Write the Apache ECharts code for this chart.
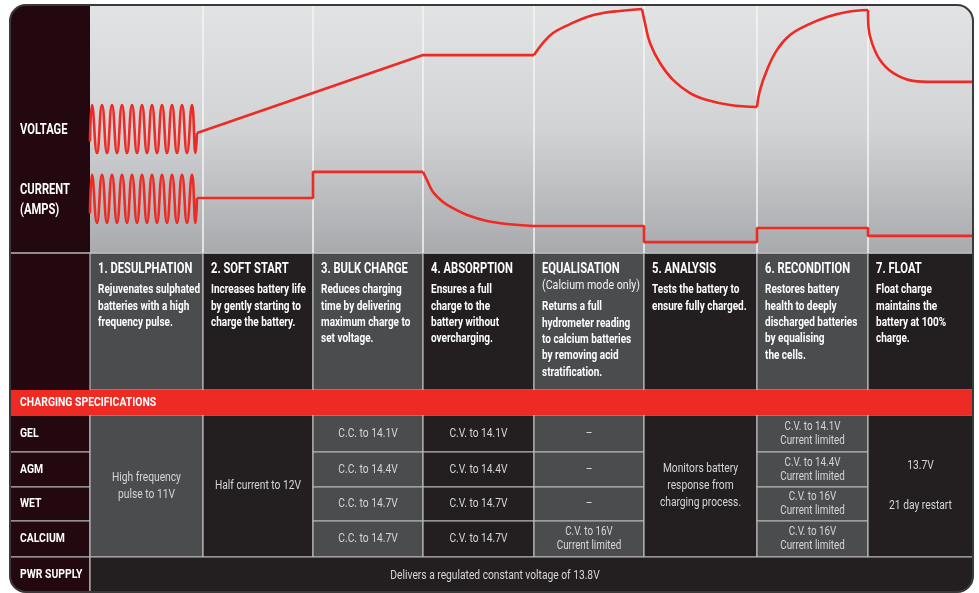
<!DOCTYPE html>
<html>
<head>
<meta charset="utf-8">
<script src="https://cdn.jsdelivr.net/npm/echarts@6/dist/echarts.min.js"></script>
<style>
html,body{margin:0;padding:0;background:#fff;}
#c{width:979px;height:593px;}
</style>
</head>
<body>
<div id="c"></div>
<script>
// ---------- DATA ----------
const stageEdges = [0, 11.3, 22.3, 33.3, 44.4, 55.4, 66.7, 77.8, 88.3];
const stageTitles = ['1. DESULPHATION','2. SOFT START','3. BULK CHARGE','4. ABSORPTION','EQUALISATION','5. ANALYSIS','6. RECONDITION','7. FLOAT'];
const stageSubtitles = ['', '', '', '', '(Calcium mode only)', '', '', ''];
const stageDescriptions = [
  'Rejuvenates sulphated\nbatteries with a high\nfrequency pulse.',
  'Increases battery life\nby gently starting to\ncharge the battery.',
  'Reduces charging\ntime by delivering\nmaximum charge to\nset voltage.',
  'Ensures a full\ncharge to the\nbattery without\novercharging.',
  'Returns a full\nhydrometer reading\nto calcium batteries\nby removing acid\nstratification.',
  'Tests the battery to\nensure fully charged.',
  'Restores battery\nhealth to deeply\ndischarged batteries\nby equalising\nthe cells.',
  'Float charge\nmaintains the\nbattery at 100%\ncharge.'
];
const curveLabels = ['VOLTAGE', 'CURRENT\n(AMPS)'];
const specHeader = 'CHARGING SPECIFICATIONS';
const batteryTypes = ['GEL','AGM','WET','CALCIUM'];
const specDesulphation = 'High frequency\npulse to 11V';
const specSoftStart = 'Half current to 12V';
const specBulk = ['C.C. to 14.1V','C.C. to 14.4V','C.C. to 14.7V','C.C. to 14.7V'];
const specAbsorption = ['C.V. to 14.1V','C.V. to 14.4V','C.V. to 14.7V','C.V. to 14.7V'];
const specEqualisation = ['–','–','–','C.V. to 16V\nCurrent limited'];
const specAnalysis = 'Monitors battery\nresponse from\ncharging process.';
const specRecondition = ['C.V. to 14.1V\nCurrent limited','C.V. to 14.4V\nCurrent limited','C.V. to 16V\nCurrent limited','C.V. to 16V\nCurrent limited'];
const specFloat = '13.7V\n\n21 day restart';
const pwrLabel = 'PWR SUPPLY';
const pwrText = 'Delivers a regulated constant voltage of 13.8V';

// curves: [time, relative level 0-100]
const voltagePulse = [[0,45],[0.2,59.7],[0.7,40.3],[1.2,59.7],[1.7,40.3],[2.2,59.7],[2.7,40.3],[3.2,59.7],[3.7,40.3],[4.2,59.7],[4.7,40.3],[5.2,59.7],[5.7,40.3],[6.2,59.7],[6.7,40.3],[7.2,59.7],[7.7,40.3],[8.2,59.7],[8.7,40.3],[9.2,59.7],[9.7,40.3],[10.2,59.7],[10.55,40.3],[10.7,48.4]];
const voltageRamp = [[10.7,48.4],[33.3,79.8],[44.4,79.8]];
const voltageEqualise = [[44.4,79.8],[45.3,84.7],[46.3,88.7],[48,92.3],[49.7,95.2],[51.3,96.8],[53,97.6],[55.2,98.4]];
const voltageAnalysis = [[55.2,98.4],[55.5,92.7],[56,84.7],[57,76.6],[58.3,69.8],[60,64.5],[61.7,61.7],[64,59.7],[66.7,58.9]];
const voltageRecondition = [[66.7,58.9],[67,65.7],[67.7,73.8],[68.7,81.9],[70,87.9],[71.7,91.9],[73.7,95.2],[75.7,97.2],[77.8,98.0]];
const voltageFloat = [[77.8,98.0],[77.85,91.1],[78.2,84.7],[79,77.8],[80.3,72.6],[82.3,69.4],[84.3,69.0],[88.3,69.0]];

const currentPulse = [[0,16],[0.2,31.5],[0.7,12.1],[1.2,31.5],[1.7,12.1],[2.2,31.5],[2.7,12.1],[3.2,31.5],[3.7,12.1],[4.2,31.5],[4.7,12.1],[5.2,31.5],[5.7,12.1],[6.2,31.5],[6.7,12.1],[7.2,31.5],[7.7,12.1],[8.2,31.5],[8.7,12.1],[9.2,31.5],[9.7,12.1],[10.2,31.5],[10.55,12.1],[10.7,22.2]];
const currentSteps = [[10.7,22.2],[22.3,22.2],[22.3,32.7],[33.3,32.7]];
const currentDecay = [[33.3,32.7],[33.7,29.4],[34.3,24.6],[35.3,20.6],[36.3,18.1],[38,14.9],[39.7,12.9],[41.7,11.7],[44.3,10.9]];
const currentTail = [[44.3,10.9],[55.4,10.9],[55.4,4.4],[66.7,4.4],[66.7,10.1],[77.8,10.1],[77.8,6.9],[88.3,6.9]];

// ---------- STYLE ----------
const RED = '#ee2a24';
const MAROON = '#24080f';
const GREY = '#4b4c4e';
const DARK = '#231f20';
const SEP = '#b9b9b9';
const FONT = 'Roboto, "Liberation Sans", sans-serif';

const chart = echarts.init(document.getElementById('c'), null, {renderer:'canvas'});

function lineSeries(name, data, smooth, extra) {
  return Object.assign({
    name, type:'line', data, smooth, symbol:'none', showSymbol:false,
    lineStyle:{color:RED, width:2.6}, silent:true, z:5
  }, extra || {});
}

const option = {
  animation:false,
  grid:{left:90, right:6, top:5, bottom:340, show:false},
  xAxis:{type:'value', min:stageEdges[0], max:stageEdges[stageEdges.length-1], show:false},
  yAxis:{type:'value', min:0, max:100, show:false},
  series:[
    lineSeries('voltagePulse', voltagePulse, 0.5, {
      markLine:{silent:true, symbol:['none','none'], label:{show:false},
        lineStyle:{color:'#f4f4f4', width:1.5, type:'solid'},
        data: stageEdges.slice(1, stageEdges.length-1).map(v => ({xAxis:v}))}
    }),
    lineSeries('voltageRamp', voltageRamp, false),
    lineSeries('voltageEqualise', voltageEqualise, 0.4),
    lineSeries('voltageAnalysis', voltageAnalysis, 0.4),
    lineSeries('voltageRecondition', voltageRecondition, 0.4),
    lineSeries('voltageFloat', voltageFloat, 0.4),
    lineSeries('currentPulse', currentPulse, 0.5),
    lineSeries('currentSteps', currentSteps, false),
    lineSeries('currentDecay', currentDecay, 0.4),
    lineSeries('currentTail', currentTail, false)
  ]
};
chart.setOption(option);

// ---------- LAYOUT (panel & table) ----------
const cols = stageEdges.map(v => chart.convertToPixel({xAxisIndex:0}, v));
const L = 10, T = 5, R = cols[cols.length-1], B = 592;
const chartBottom = chart.convertToPixel({yAxisIndex:0}, 0);
const headBottom = 390, redBottom = 415;
const rowEdges = [415, 452, 487, 521, 557];

// condensed look: text is squeezed horizontally
function txt(text, x, y, opts) {
  opts = opts || {};
  const bold = opts.weight === 'bold';
  return {type:'text', z: opts.z || 20, x, y, scaleX: opts.sx || (bold ? 0.8 : 0.82), scaleY: 1,
    style:{
      text, x:0, y:0,
      fill: opts.fill || '#ffffff',
      fontFamily: FONT,
      fontSize: opts.size || 12,
      fontWeight: opts.weight || 'normal',
      textAlign: opts.align || 'left', align: opts.align || 'left',
      textVerticalAlign: opts.valign || 'middle', verticalAlign: opts.valign || 'middle',
      lineHeight: opts.lh || 16
  }};
}
function rect(x, y, w, h, fill, extra) {
  extra = extra || {};
  return {type:'rect', z: extra.z || 1, shape:{x, y, width:w, height:h, r: extra.r || 0},
    style:{fill, stroke: extra.stroke || null, lineWidth: extra.lw || 0}};
}

const els = [];
// left column
els.push(rect(L, T, cols[0]-L, B-T, MAROON, {r:[16,0,0,16], z:0}));
// chart background
els.push(rect(cols[0], T, R-cols[0], chartBottom-T, new echarts.graphic.LinearGradient(0,0,0,1,[
  {offset:0, color:'#e2e3e5'}, {offset:0.5, color:'#d2d3d5'}, {offset:1, color:'#a9aaad'}]), {r:[0,16,0,0], z:0}));
// curve labels
els.push(txt(curveLabels[0], 20, 130, {weight:'bold', size:14}));
els.push(txt(curveLabels[1], 20, 200, {weight:'bold', size:14, lh:20}));
// header line
els.push({type:'line', z:3, shape:{x1:L, y1:chartBottom, x2:R, y2:chartBottom}, style:{stroke:SEP, lineWidth:1.5}});
// header cells
for (let i = 0; i < stageTitles.length; i++) {
  const x0 = cols[i], x1 = cols[i+1];
  els.push(rect(x0, chartBottom, x1-x0, headBottom-chartBottom, i % 2 === 0 ? GREY : DARK, {stroke:SEP, lw:1.2, z:2}));
  els.push(txt(stageTitles[i], x0+8, 269.5, {weight:'bold', size:14}));
  let descY = 290;
  if (stageSubtitles[i]) {
    els.push(txt(stageSubtitles[i], x0+8, 286, {size:13, fill:'#f2f2f2'}));
    descY = 307;
  }
  els.push(txt(stageDescriptions[i], x0+8, descY-8.2, {weight:'bold', size:12.5, lh:16.4, valign:'top'}));
}
// red bar
els.push(rect(L, headBottom, R-L, redBottom-headBottom, RED, {z:3}));
els.push(txt(specHeader, 20, 403, {weight:'bold', size:13}));

// table rows
const TXT = '#d6d6d6';
for (let r = 0; r < batteryTypes.length; r++) {
  els.push(rect(L, rowEdges[r], cols[0]-L, rowEdges[r+1]-rowEdges[r], MAROON, {stroke:SEP, lw:1.2, z:2}));
  els.push(txt(batteryTypes[r], 20, (rowEdges[r]+rowEdges[r+1])/2, {weight:'bold', size:13}));
}
const specColumns = [specDesulphation, specSoftStart, specBulk, specAbsorption, specEqualisation, specAnalysis, specRecondition, specFloat];
const tTop = rowEdges[0], tBot = rowEdges[rowEdges.length-1];
specColumns.forEach((spec, i) => {
  const x0 = cols[i], x1 = cols[i+1], fill = i % 2 === 0 ? GREY : DARK;
  const cx = (x0+x1)/2;
  if (typeof spec === 'string') {
    els.push(rect(x0, tTop, x1-x0, tBot-tTop, fill, {stroke:SEP, lw:1.2, z:2}));
    els.push(txt(spec, cx, (tTop+tBot)/2, {fill:TXT, size:12.5, align:'center', lh: spec.indexOf('\n\n') >= 0 ? 20 : 17}));
  } else {
    spec.forEach((s, r) => {
      els.push(rect(x0, rowEdges[r], x1-x0, rowEdges[r+1]-rowEdges[r], fill, {stroke:SEP, lw:1.2, z:2}));
      const two = s.indexOf('\n') >= 0;
      els.push(txt(s, cx, (rowEdges[r]+rowEdges[r+1])/2, {fill:TXT, size: two ? 12 : 12.5, align:'center', lh:14}));
    });
  }
});
// power supply row
els.push(rect(L, tBot, cols[0]-L, B-tBot, MAROON, {r:[0,0,0,16], stroke:SEP, lw:1.2, z:2}));
els.push(rect(cols[0], tBot, R-cols[0], B-tBot, DARK, {r:[0,0,16,0], stroke:SEP, lw:1.2, z:2}));
els.push(txt(pwrLabel, 20, 575, {weight:'bold', size:13}));
els.push(txt(pwrText, 495, 576, {fill:TXT, size:12.5, align:'center'}));
// outer frame
els.push({type:'rect', z:50, shape:{x:L, y:T, width:R-L, height:B-T, r:16}, style:{fill:null, stroke:'#3a3a3a', lineWidth:2}});

chart.setOption({graphic:{elements:els}});
</script>
</body>
</html>
